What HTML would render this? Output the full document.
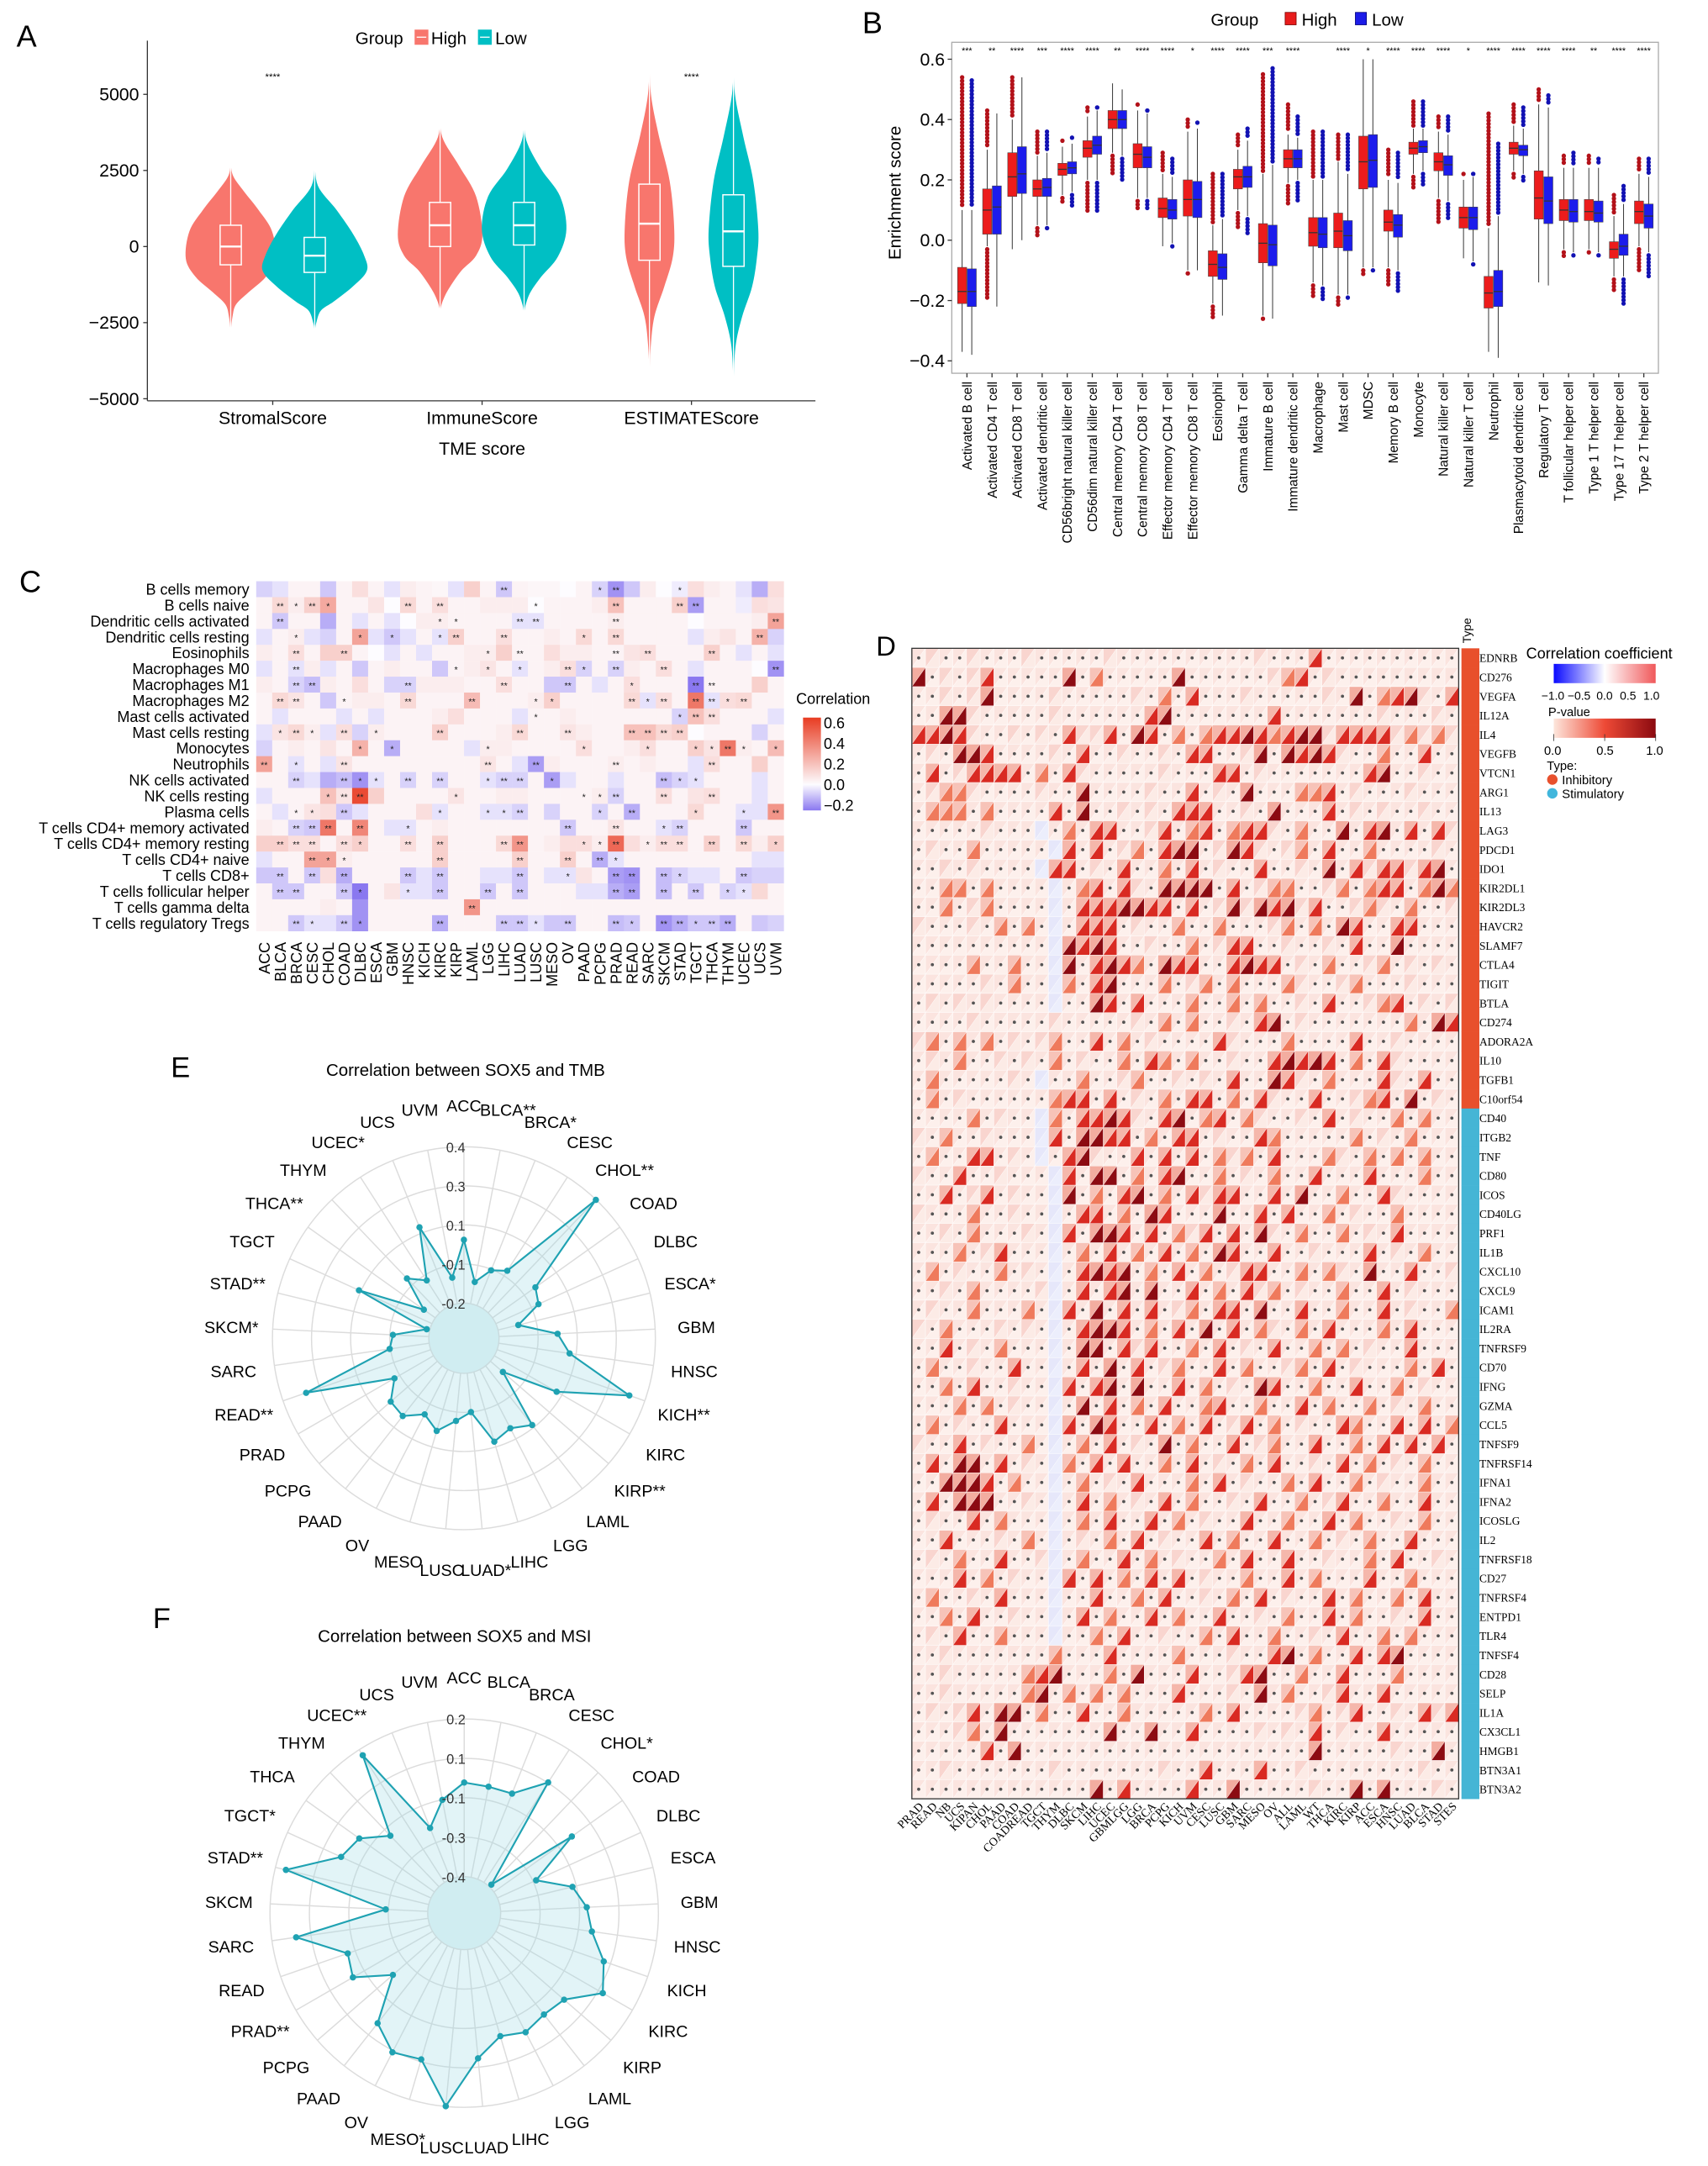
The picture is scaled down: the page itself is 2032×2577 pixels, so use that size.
<!DOCTYPE html>
<html><head><meta charset="utf-8">
<style>
html,body{margin:0;padding:0;background:#fff;}
svg{display:block;font-family:"Liberation Sans",Arial,sans-serif;}
.serif{font-family:"Liberation Serif",serif;}
</style></head>
<body>
<svg id="fig" xmlns="http://www.w3.org/2000/svg" width="2032" height="2577" viewBox="0 0 1240 1572.6" preserveAspectRatio="none">
<defs>
 <linearGradient id="gradC" x1="0" y1="1" x2="0" y2="0">
  <stop offset="0" stop-color="#8a78f0"/><stop offset="0.28" stop-color="#fdfcff"/><stop offset="1" stop-color="#e83c22"/>
 </linearGradient>
 <linearGradient id="gradD1" x1="0" y1="0" x2="1" y2="0">
  <stop offset="0" stop-color="#0a0aff"/><stop offset="0.5" stop-color="#ffffff"/><stop offset="1" stop-color="#f0585a"/>
 </linearGradient>
 <linearGradient id="gradD2" x1="0" y1="0" x2="1" y2="0">
  <stop offset="0" stop-color="#fde6dc"/><stop offset="0.5" stop-color="#ee4a36"/><stop offset="1" stop-color="#8b0a10"/>
 </linearGradient>
</defs>

<!-- Panel A -->
<g id="pA">
 <text x="12" y="34" font-size="22">A</text>
 <g font-size="12.5">
  <text x="258" y="32">Group</text>
  <rect x="301" y="21.5" width="10" height="11" fill="#f8766d"/>
  <line x1="302.5" y1="27" x2="309.5" y2="27" stroke="#fff" stroke-width="0.8"/>
  <text x="313" y="32">High</text>
  <rect x="347" y="21.5" width="10" height="11" fill="#00bfc4"/>
  <line x1="348.5" y1="27" x2="355.5" y2="27" stroke="#fff" stroke-width="0.8"/>
  <text x="359.5" y="32">Low</text>
 </g>
 <line x1="107" y1="29.5" x2="107" y2="291" stroke="#333" stroke-width="0.8"/>
 <line x1="107" y1="291" x2="592" y2="291" stroke="#333" stroke-width="0.8"/>
 <text x="350" y="330" font-size="13" text-anchor="middle">TME score</text>
</g>

<!-- Panel B -->
<g id="pB">
 <text x="626" y="24" font-size="22">B</text>
 <g font-size="12.5">
  <text x="879" y="18.5">Group</text>
  <rect x="933" y="9" width="8" height="9" fill="#e81c1c" stroke="#7a0000" stroke-width="0.5"/>
  <text x="945" y="18.5">High</text>
  <rect x="984" y="9" width="8" height="9" fill="#1c1ce8" stroke="#00007a" stroke-width="0.5"/>
  <text x="996" y="18.5">Low</text>
 </g>
 <rect x="691" y="30.7" width="513" height="240.3" fill="none" stroke="#aaa" stroke-width="0.8"/>
 <text transform="translate(654,140) rotate(-90)" font-size="12.5" text-anchor="middle">Enrichment score</text>
</g>

<!-- Panel C -->
<g id="pC">
 <text x="14" y="430" font-size="22">C</text>
 <text x="578" y="511" font-size="11">Correlation</text>
 <rect x="583" y="521" width="13" height="67.4" fill="url(#gradC)"/>
</g>

<!-- Panel D -->
<g id="pD">
 <text x="636" y="476" font-size="20">D</text>
 <text transform="translate(1068,467) rotate(-90)" font-size="8.5">Type</text>
 <text x="1108" y="478" font-size="11">Correlation coefficient</text>
 <rect x="1128" y="482" width="74" height="14" fill="url(#gradD1)"/>
 <g font-size="8.5">
  <text x="1119" y="508">−1.0</text>
  <text x="1138" y="508">−0.5</text>
  <text x="1159" y="508">0.0</text>
  <text x="1176" y="508">0.5</text>
  <text x="1193" y="508">1.0</text>
 </g>
 <text x="1124" y="520" font-size="9">P-value</text>
 <rect x="1128" y="521.7" width="74" height="14" fill="url(#gradD2)"/>
 <g stroke="#333" stroke-width="0.5">
  <line x1="1128" y1="533" x2="1128" y2="538"/>
  <line x1="1165" y1="533" x2="1165" y2="538"/>
  <line x1="1202" y1="533" x2="1202" y2="538"/>
 </g>
 <g font-size="9">
  <text x="1121" y="548">0.0</text>
  <text x="1159" y="548">0.5</text>
  <text x="1195" y="548">1.0</text>
 </g>
 <text x="1123" y="559" font-size="9">Type:</text>
 <circle cx="1127" cy="566" r="3.8" fill="#e8512e"/>
 <text x="1134" y="569.5" font-size="9">Inhibitory</text>
 <circle cx="1127" cy="576" r="3.8" fill="#41b6dc"/>
 <text x="1134" y="579.5" font-size="9">Stimulatory</text>
</g>

<!-- Panel E & F -->
<g id="pE">
 <text x="124" y="782" font-size="21">E</text>
 <text x="338" y="781" font-size="12.5" text-anchor="middle">Correlation between SOX5 and TMB</text>
</g>
<g id="pF">
 <text x="111" y="1182" font-size="21">F</text>
 <text x="330" y="1192" font-size="12.5" text-anchor="middle">Correlation between SOX5 and MSI</text>
</g>
</svg>

<script>
const NS="http://www.w3.org/2000/svg";
function mk(tag,attrs,parent){const e=document.createElementNS(NS,tag);for(const k in attrs)e.setAttribute(k,attrs[k]);parent.appendChild(e);return e;}

/* ================= PANEL A DATA ================= */
const aGroups=["StromalScore","ImmuneScore","ESTIMATEScore"];
const aMedHigh=[0,700,750];
const aQ1High=[-600,0,-450];
const aQ3High=[700,1450,2050];
const aMedLow=[-300,700,500];
const aQ1Low=[-850,50,-650];
const aQ3Low=[300,1450,1700];
const aDensValsHigh=[[2700,2300,1800,1200,500,-400,-1000,-1500,-1900,-2300,-2800],[4500,3600,2650,1650,400,-300,-800,-1400,-1800,-2100],[6300,5000,3640,2150,660,-330,-1320,-2300,-3300,-4300]];
const aDensWHigh=[[0,0.06,0.3,0.62,0.92,1,0.78,0.4,0.12,0.04,0],[0,0.05,0.45,0.85,1,0.85,0.5,0.2,0.06,0],[0,0.06,0.38,0.82,1,0.95,0.6,0.2,0.05,0]];
const aDensValsLow=[[2900,2000,1200,400,-300,-800,-1300,-1800,-2100,-2500,-2800],[4400,3500,2550,1650,570,-330,-1000,-1500,-1900,-2200],[6200,5000,3600,2150,570,-330,-1320,-2300,-3300,-4600]];
const aDensWLow=[[0,0.06,0.42,0.74,0.95,1,0.74,0.37,0.12,0.03,0],[0,0.05,0.4,0.85,1,0.8,0.4,0.15,0.04,0],[0,0.06,0.4,0.8,1,0.95,0.75,0.35,0.08,0]];
const aMaxHalfHigh=[32.6,30.7,17.9];
const aMaxHalfLow=[37.8,30.7,18];
const aTicks=[5000,2500,0,-2500,-5000];
const aTickLabels=["5000","2500","0","−2500","−5000"];
const aSig=["****","","****"];

/* ================= PANEL B DATA ================= */
const bCells=["Activated B cell","Activated CD4 T cell","Activated CD8 T cell","Activated dendritic cell","CD56bright natural killer cell","CD56dim natural killer cell","Central memory CD4 T cell","Central memory CD8 T cell","Effector memory CD4 T cell","Effector memory CD8 T cell","Eosinophil","Gamma delta T cell","Immature B cell","Immature dendritic cell","Macrophage","Mast cell","MDSC","Memory B cell","Monocyte","Natural killer cell","Natural killer T cell","Neutrophil","Plasmacytoid dendritic cell","Regulatory T cell","T follicular helper cell","Type 1 T helper cell","Type 17 T helper cell","Type 2 T helper cell"];
const bSig=["***","**","****","***","****","****","**","****","****","*","****","****","***","****","","****","*","****","****","****","*","****","****","****","****","**","****","****"];
const bQ1H=[-.21,.02,.145,.145,.215,.275,.37,.24,.075,.08,-.12,.17,-.075,.24,-.02,-.025,.17,.03,.285,.23,.04,-.225,.285,.07,.065,.065,-.06,.055];
const bMedH=[-.17,.10,.21,.17,.235,.305,.40,.285,.105,.135,-.08,.21,-.01,.27,.025,.03,.26,.06,.305,.26,.075,-.175,.305,.14,.10,.095,-.03,.095];
const bQ3H=[-.09,.17,.29,.20,.255,.33,.43,.32,.14,.20,-.035,.235,.055,.30,.075,.09,.345,.10,.325,.29,.11,-.12,.325,.23,.135,.135,-.005,.13];
const bLoH=[-.37,-.02,-.03,.05,.15,.2,.29,.14,-.02,-.1,-.21,.1,-.25,.19,-.14,-.18,-.09,-.09,.22,.14,-.06,-.37,.23,-.14,-.03,-.03,-.12,-.02];
const bHiH=[.10,.30,.40,.28,.31,.41,.52,.43,.22,.36,.05,.30,.22,.35,.2,.26,.6,.2,.37,.36,.2,.04,.38,.45,.24,.24,.08,.22];
const bOminH=[-.37,-.2,-.03,.01,.12,.09,.22,.1,-.02,-.11,-.26,.04,-.27,.12,-.19,-.22,-.12,-.15,.17,.06,-.06,-.37,.2,-.14,-.06,-.05,-.17,-.1];
const bOmaxH=[.54,.43,.54,.36,.33,.44,.52,.45,.29,.40,.22,.35,.55,.45,.36,.35,.6,.3,.46,.41,.22,.42,.45,.50,.28,.28,.15,.27];
const bQ1L=[-.22,.02,.155,.145,.22,.285,.37,.24,.07,.075,-.13,.175,-.085,.24,-.025,-.035,.175,.01,.29,.215,.035,-.22,.28,.055,.06,.06,-.05,.04];
const bMedL=[-.17,.11,.22,.175,.24,.315,.40,.275,.10,.135,-.09,.21,-.015,.27,.02,.015,.265,.05,.31,.25,.075,-.17,.30,.13,.095,.09,-.02,.08];
const bQ3L=[-.095,.18,.31,.205,.26,.345,.43,.31,.135,.195,-.045,.245,.05,.30,.075,.065,.35,.085,.33,.28,.11,-.10,.315,.21,.135,.13,.02,.12];
const bLoL=[-.38,-.22,0,.05,.16,.2,.28,.14,-.01,-.1,-.25,.08,-.26,.2,-.15,-.18,-.09,-.1,.23,.13,-.07,-.39,.22,-.15,-.04,-.04,-.12,-.04];
const bHiL=[.10,.42,.54,.29,.32,.43,.5,.42,.21,.37,.07,.33,.25,.34,.2,.22,.6,.19,.37,.35,.21,.08,.37,.44,.24,.24,.12,.21];
const bOminL=[-.38,-.22,0,.04,.11,.09,.2,.1,-.03,-.1,-.25,.02,-.26,.13,-.2,-.2,-.1,-.17,.18,.07,-.08,-.39,.19,-.15,-.06,-.05,-.21,-.12];
const bOmaxL=[.53,.42,.54,.36,.34,.44,.5,.43,.27,.39,.22,.37,.57,.41,.36,.35,.6,.29,.46,.41,.22,.32,.44,.48,.29,.27,.18,.27];
const bTicks=[0.6,0.4,0.2,0,-0.2,-0.4];
const bTickLabels=["0.6","0.4","0.2","0.0","−0.2","−0.4"];

/* ================= PANEL C DATA ================= */
const cCols=["ACC","BLCA","BRCA","CESC","CHOL","COAD","DLBC","ESCA","GBM","HNSC","KICH","KIRC","KIRP","LAML","LGG","LIHC","LUAD","LUSC","MESO","OV","PAAD","PCPG","PRAD","READ","SARC","SKCM","STAD","TGCT","THCA","THYM","UCEC","UCS","UVM"];
const cRows=["B cells memory","B cells naive","Dendritic cells activated","Dendritic cells resting","Eosinophils","Macrophages M0","Macrophages M1","Macrophages M2","Mast cells activated","Mast cells resting","Monocytes","Neutrophils","NK cells activated","NK cells resting","Plasma cells","T cells CD4+ memory activated","T cells CD4+ memory resting","T cells CD4+ naive","T cells CD8+","T cells follicular helper","T cells gamma delta","T cells regulatory Tregs"];
const cVals=[
[-8,-5,3,3,-10,3,10,3,-5,5,3,2,-5,15,3,-10,3,2,2,0,3,-8,-20,-10,5,0,-3,10,5,3,-5,-15,10],
[3,12,5,15,28,3,3,8,0,12,3,10,3,3,5,5,5,0,3,3,3,5,20,3,3,3,15,-18,3,3,-3,10,8],
[3,-10,3,3,-15,3,-5,3,-5,0,5,5,3,3,3,3,-5,-5,3,3,3,3,5,3,3,3,3,0,3,3,3,5,30],
[-5,3,5,-5,-8,3,30,-5,-10,-5,3,-5,15,3,3,10,3,3,5,3,12,3,12,3,3,3,3,-5,5,8,3,25,-8],
[5,3,10,3,15,15,3,0,-5,3,-5,3,3,5,5,15,3,3,10,5,5,3,3,8,10,3,3,3,15,3,-5,3,-5],
[-5,3,-5,5,-5,3,-10,3,5,3,3,-10,3,5,8,3,-5,3,5,10,-8,3,-8,5,3,10,3,-5,3,3,3,0,-20],
[5,3,-8,-12,5,3,10,3,-8,-8,5,5,5,3,3,10,3,3,-10,-10,3,-5,3,10,3,3,3,-25,3,3,3,15,3],
[3,12,8,3,-10,3,5,5,3,12,3,3,3,22,3,3,3,5,15,3,3,3,3,12,-5,10,3,45,-5,10,12,3,3],
[3,-5,3,3,3,-5,3,-5,3,3,3,5,10,3,3,3,-5,3,3,5,3,3,3,3,3,3,-8,20,10,3,3,3,-5],
[-5,8,12,5,-5,10,-8,5,3,3,3,15,3,3,3,5,12,3,3,8,5,3,3,20,20,12,15,0,3,3,3,-8,3],
[-8,3,5,3,8,3,25,3,-15,3,3,3,3,-5,5,5,3,3,3,3,10,3,3,5,10,3,3,15,8,45,5,3,22],
[30,3,-5,3,-5,8,3,3,3,3,3,3,3,3,8,3,-5,-18,5,3,3,3,5,3,5,3,3,-5,10,3,3,15,3],
[3,3,-8,-5,-15,-12,-20,-5,3,-8,3,-8,3,3,-5,-8,-8,3,-18,-5,3,3,-5,3,3,-12,-8,-5,3,3,3,-5,3],
[-5,3,3,3,20,8,60,15,3,3,3,3,8,3,3,5,5,3,3,3,3,5,-8,3,3,10,3,8,10,3,3,-5,3],
[3,-5,3,8,10,-10,-5,3,3,3,10,-5,3,3,-5,-5,-8,3,-8,3,3,-8,3,-15,3,3,3,12,3,3,-5,-5,35],
[5,3,-8,-10,45,3,40,3,-5,-5,3,5,3,3,3,3,3,3,3,-10,3,3,8,3,3,-5,-8,3,3,3,-10,3,3],
[15,15,10,10,3,10,15,3,3,10,3,15,3,3,3,12,35,3,5,10,10,5,50,10,5,10,10,3,15,3,12,5,15],
[-5,3,3,30,30,5,3,3,3,3,3,15,3,3,3,3,15,3,3,15,3,-15,-5,3,3,3,3,3,3,3,3,-5,-5],
[-10,-10,3,-10,10,-15,3,3,3,-10,-5,-10,3,3,-5,-5,-10,3,-5,-5,8,3,-18,-20,3,-12,-8,-5,-5,3,-10,-8,-8],
[3,-10,-10,3,3,-10,-25,3,8,-5,-5,-10,3,3,-10,3,-10,3,3,3,-5,-5,-15,-18,3,-12,3,-10,3,-8,-5,12,3],
[3,3,3,3,5,3,-20,3,3,3,3,3,3,35,3,3,3,3,3,3,3,3,3,3,3,3,3,3,3,3,3,3,3],
[3,3,-10,-5,-5,-10,-20,3,3,3,3,-15,3,3,3,-10,-10,-5,-10,-10,3,3,-12,-10,3,-20,-15,-10,-10,-15,3,-10,-8]];
const cStars=[
"LIHC:2 PCPG:1 PRAD:2 STAD:1",
"BLCA:2 BRCA:1 CESC:2 CHOL:1 HNSC:2 KIRC:2 LUSC:1 PRAD:2 STAD:2 TGCT:2",
"BLCA:2 KIRC:1 KIRP:1 LUAD:2 LUSC:2 PRAD:2 UVM:2",
"BRCA:1 DLBC:1 GBM:1 KIRC:1 KIRP:2 LIHC:2 PAAD:1 PRAD:2 UCS:2",
"BRCA:2 COAD:2 LGG:1 LUAD:2 PRAD:2 SARC:2 THCA:2",
"BRCA:2 KIRP:1 LGG:1 LUAD:1 OV:2 PAAD:1 PRAD:2 SKCM:2 UVM:2",
"BRCA:2 CESC:2 HNSC:2 LIHC:2 OV:2 READ:1 TGCT:2 THCA:2",
"BLCA:2 BRCA:2 COAD:1 HNSC:2 LAML:2 LUSC:1 MESO:1 READ:2 SARC:1 SKCM:2 TGCT:2 THCA:2 THYM:1 UCEC:2",
"LUSC:1 STAD:1 TGCT:2 THCA:2",
"BLCA:1 BRCA:2 CESC:1 COAD:2 ESCA:1 KIRC:2 LUAD:2 OV:2 READ:2 SARC:2 SKCM:2 STAD:2",
"DLBC:1 GBM:1 LGG:1 PAAD:1 SARC:1 TGCT:1 THCA:1 THYM:2 UCEC:1 UVM:1",
"ACC:2 BRCA:1 COAD:2 LGG:2 LUSC:2 PRAD:2 THCA:2",
"BRCA:2 COAD:2 DLBC:1 ESCA:1 HNSC:2 KIRC:2 LGG:1 LIHC:2 LUAD:2 MESO:1 SKCM:2 STAD:1 TGCT:1",
"CHOL:1 COAD:2 DLBC:2 KIRP:1 PAAD:1 PCPG:1 PRAD:2 SKCM:2 THCA:2",
"BRCA:1 CESC:1 COAD:2 KIRC:1 LGG:1 LIHC:1 LUAD:2 PCPG:1 READ:2 TGCT:1 UCEC:1 UVM:2",
"BRCA:2 CESC:2 CHOL:2 DLBC:2 HNSC:1 OV:2 PRAD:2 SKCM:1 STAD:2 UCEC:2",
"BLCA:2 BRCA:2 CESC:2 COAD:2 DLBC:1 HNSC:2 KIRC:2 LIHC:2 LUAD:2 PAAD:1 PCPG:1 PRAD:2 SARC:1 SKCM:2 STAD:2 THCA:2 UCEC:2 UVM:1",
"CESC:2 CHOL:1 COAD:1 KIRC:2 LUAD:2 OV:2 PCPG:2 PRAD:1",
"BLCA:2 CESC:2 COAD:2 HNSC:2 KIRC:2 LUAD:2 OV:1 PRAD:2 READ:2 SKCM:2 STAD:1 UCEC:2",
"BLCA:2 BRCA:2 COAD:2 DLBC:1 HNSC:1 KIRC:2 LGG:2 LUAD:2 PRAD:2 READ:2 SKCM:2 TGCT:2 THYM:1 UCEC:1",
"LAML:2",
"BRCA:2 CESC:1 COAD:2 DLBC:1 KIRC:2 LIHC:2 LUAD:2 LUSC:1 OV:2 PRAD:2 READ:1 SKCM:2 STAD:2 TGCT:1 THCA:2 THYM:2"];
const cLegendTicks=[0.6,0.4,0.2,0,-0.2];
const cLegendLabels=["0.6","0.4","0.2","0.0","−0.2"];

/* ================= PANEL D DATA ================= */
const dCols=["PRAD","READ","NB","UCS","KIPAN","CHOL","PAAD","COAD","COADREAD","TGCT","THYM","DLBC","SKCM","LIHC","UCEC","GBMLGG","LGG","BRCA","PCPG","KICH","UVM","CESC","LUSC","GBM","SARC","MESO","OV","ALL","LAML","WT","THCA","KIRC","KIRP","ACC","ESCA","HNSC","LUAD","BLCA","STAD","STES"];
const dGenes=["EDNRB","CD276","VEGFA","IL12A","IL4","VEGFB","VTCN1","ARG1","IL13","LAG3","PDCD1","IDO1","KIR2DL1","KIR2DL3","HAVCR2","SLAMF7","CTLA4","TIGIT","BTLA","CD274","ADORA2A","IL10","TGFB1","C10orf54","CD40","ITGB2","TNF","CD80","ICOS","CD40LG","PRF1","IL1B","CXCL10","CXCL9","ICAM1","IL2RA","TNFRSF9","CD70","IFNG","GZMA","CCL5","TNFSF9","TNFRSF14","IFNA1","IFNA2","ICOSLG","IL2","TNFRSF18","CD27","TNFRSF4","ENTPD1","TLR4","TNFSF4","CD28","SELP","IL1A","CX3CL1","HMGB1","BTN3A1","BTN3A2"];
const dInhibitoryCount=24;
/* per-cell code: '.' non-significant (dot), 'o' light, '1'-'4' p-value intensity, 'b' negative correlation */
const dCells=[
".o..o...o.....o..........o...3..........",
"4.o.o3.....4.2.....4......o23.o.........",
"..o.o4....o.....o.2.3...o.....o.4.234o.3",
"..44o.....o......34.......3.......o...o.",
"3343o..o.o.3oo3.43.2.233432344o3333o2o2o",
".o.443....o.3..o..o.33..o4.4343o..2..3..",
".3.o3333.2.3o.....o...33.o.......34..o..",
".o22o....o..4....o..3.o.4...223.o...o...",
".222.2....3.4..o.o.333..o.4...3.o.o..o..",
".....o...b.2.33..o3.23.233o.2..4.34.3.3o",
".o..2.....b3.3.o2.344.o43o.o2.3..2....o.",
"..o.o....b33.o.3..2.3.o..3..o.4.3o33o34.",
"..22.2....b.23.3o.4444.3.o22..o2.233.242",
"..2.o2....b.3334433.3.o4o434o3..o2o.2..o",
"o...o.2.2.b.333.o..2..2...o2.2.43..33...",
"..........b4343..o..2.o33..o..o.3..4....",
"....2..2..b4.3432.433..3433.o.2..o2.o.o.",
".....o.2..b2.34...2.o2.2...2o..o2...o...",
".o.o.o....b..43.3...2..2.2..o.3..o23.o.o",
"....o.....o.....o.2.2..o.34.o.......2.43",
"o2.2.2.o.o2..3.2.o....3o...2....3..o....",
".o.2..o.o.2.o..2.32.2..o..34343.2.3o....",
".2.....o.b..2..o2..o.o.3..43o.2...3o.3..",
".2.o......233.3.o.2.33.2.3o..3..o23.4.o.",
"....2.o..b2.3343o.34.23.2o..o.3.o..2.2..",
"o.2..o...b3.4433.2.33.o..32.....2.o.2...",
".2..33.o.b.34o..3.3.3.2o2.3...2o.2.2.2..",
"o..3..o...b3.44.2.34..2.o.2..3...3...2..",
"..3.o3.o..b4.2.34.2.3o33..3.4..2..3o....",
"o...2..o..b.33.2.43...4..3.3..2.o..2....",
"..o.2...o.b3.443.3.2o3.3.4o.2..2.o.3....",
"...2.o3...b.2.3.2.3.2.43..3..o...3.o.2..",
".2.o..2.o.b.3434.2.3.2.o33..2.2o.4..3..o",
"..o.2....ob.3.34.4..3.2.3o2.o..2..3.o...",
".o..2...2.b3.4.3.3.o2.33.4..3..2..3.o..2",
"o.2...o.o.b.3443.2.3.4.3.2o.2.3...2.3...",
"..3.o.2...b.44.3o3..2.3.o.3..2.2.o..3...",
".2..o..3..b.3.4.3.o2..3.2..o2.3.o...2.3.",
"..2.3..o..b3.34.4..3.2.o.43..2..3..2.o..",
"...2.2.o..b.4.3.2.3..23..2..3.2..2.o.2..",
".2.o..3...b3.43..3.2.3.o3.2.o..32..3.3.2",
"o..3.o..2.b.2.3.o.4.2..3.o2..3..2.3.3.3.",
".3.44.3.o.b2.3.3..2.3.o.2.3..o.3.2.o.2..",
"..4443.2..b.2.o.3...2.3.o..2.3..2.o..2..",
".3.444..o.b.3.2.o.3.2..o.3..2.o3..2..3..",
".o..3.2...b.2.3..3.2.o..3..2..3.2..o.2..",
"..3...o.2.b.o.2.3.o..3.2..3..2.o.2..3...",
".o.2..3..ob.2..3.2.o..2.3..3..o..2.3..o.",
"...3.2.o..b3.3.2.3.3.o..2..3.2...3..2...",
".2..o.3...b..3..2.3..o.2.3.o..3.2..2.3..",
"..2.3..o..b.3.2..3.2..3..o.2..3.2..o.3..",
".o.3..2...b..2.3..o..2.3..2..o.3..2.2...",
"..o.......2...3....2...o..34.2..3.34....",
"..o.....234...2.4...3..o34..2..3...2....",
"..o.....24.2.2.2...3...o.4.2..o3..3.....",
".o.o3.44.2..3..2.....2.3....o2.o3..o.3o3",
"...o2.4.......4..4..3....o.o.3.o..3.....",
".....3.4.....................4.....o..4",
"..o.......o.......o..3...3..o........o..",
".............4.3....3..4.....o..4.4...o."];

/* ================= PANEL E/F DATA ================= */
const radarCats=["ACC","BLCA","BRCA","CESC","CHOL","COAD","DLBC","ESCA","GBM","HNSC","KICH","KIRC","KIRP","LAML","LGG","LIHC","LUAD","LUSC","MESO","OV","PAAD","PCPG","PRAD","READ","SARC","SKCM","STAD","TGCT","THCA","THYM","UCEC","UCS","UVM"];
const eLabels=["ACC","BLCA**","BRCA*","CESC","CHOL**","COAD","DLBC","ESCA*","GBM","HNSC","KICH**","KIRC","KIRP**","LAML","LGG","LIHC","LUAD*","LUSC","MESO","OV","PAAD","PCPG","PRAD","READ**","SARC","SKCM*","STAD**","TGCT","THCA**","THYM","UCEC*","UCS","UVM"];
const eValues=[0.043,-0.115,-0.054,-0.027,0.399,0.002,-0.02,-0.12,0.025,0.075,0.337,0.076,-0.137,0.089,0.054,0.079,-0.05,-0.016,0.036,-0.006,0.045,0.037,-0.027,0.306,-0.047,-0.062,-0.188,0.108,-0.146,-0.018,-0.071,0.124,-0.098];
const eRingVals=[-0.2,-0.05,0.1,0.25,0.4];
const eRingLabels=["-0.2","-0.1","0.1","0.3","0.4"];
const fLabels=["ACC","BLCA","BRCA","CESC","CHOL*","COAD","DLBC","ESCA","GBM","HNSC","KICH","KIRC","KIRP","LAML","LGG","LIHC","LUAD","LUSC","MESO*","OV","PAAD","PCPG","PRAD**","READ","SARC","SKCM","STAD**","TGCT*","THCA","THYM","UCEC**","UCS","UVM"];
const fValues=[-0.042,-0.049,-0.049,0.052,-0.389,-0.036,-0.238,-0.115,-0.072,-0.048,0.023,0.07,-0.036,-0.048,-0.029,-0.051,0.016,0.199,0.041,0.057,-0.006,-0.18,-0.05,-0.07,0.107,-0.24,0.159,-0.024,-0.049,-0.132,0.175,-0.19,-0.1];
const fRingVals=[-0.4,-0.25,-0.1,0.05,0.2];
const fRingLabels=["-0.4","-0.3","-0.1","0.1","0.2"];

/* ================= DRAW A ================= */
(function(){
 const g=document.getElementById('pA');
 const aY=v=>179-v*110.5/5000;
 const aXc=[198,350,502];
 aTicks.forEach((t,i)=>{
  const tk=mk('line',{x1:104,x2:107,y1:aY(t),y2:aY(t),stroke:'#333','stroke-width':0.8},g);
  
  
  const tl=mk('text',{x:101,y:aY(t)+4.5,'font-size':13,'text-anchor':'end'},g);
  tl.textContent=aTickLabels[i];
  
  
 });
 function smoothSide(pts){ // catmull-rom resample
  const out=[];
  for(let i=0;i<pts.length-1;i++){
   const p0=pts[Math.max(0,i-1)],p1=pts[i],p2=pts[i+1],p3=pts[Math.min(pts.length-1,i+2)];
   for(let t=0;t<1;t+=0.125){
    const t2=t*t,t3=t2*t;
    const f=(a,b,c,d)=>0.5*((2*b)+(-a+c)*t+(2*a-5*b+4*c-d)*t2+(-a+3*b-3*c+d)*t3);
    out.push([f(p0[0],p1[0],p2[0],p3[0]),f(p0[1],p1[1],p2[1],p3[1])]);
   }
  }
  out.push(pts[pts.length-1]);
  return out;
 }
 function violin(cx,vals,ws,maxW,q1,med,q3,color,nm){
  const ys=vals.map(aY);
  const right=smoothSide(vals.map((v,i)=>[Math.max(0,ws[i])*maxW,ys[i]]));
  let d='M'+right.map(p=>(cx+Math.max(0,p[0])).toFixed(2)+','+p[1].toFixed(2)).join('L');
  d+='L'+right.slice().reverse().map(p=>(cx-Math.max(0,p[0])).toFixed(2)+','+p[1].toFixed(2)).join('L')+'Z';
  const v=mk('path',{d:d,fill:color},g);
  
  
  const w=mk('line',{x1:cx,x2:cx,y1:ys[0],y2:ys[ys.length-1],stroke:'#fff','stroke-width':0.8},g);
  
  
  const b=mk('rect',{x:cx-7.7,y:aY(q3),width:15.4,height:aY(q1)-aY(q3),fill:color,stroke:'#fff','stroke-width':0.9},g);
  
  
  const m=mk('line',{x1:cx-7.7,x2:cx+7.7,y1:aY(med),y2:aY(med),stroke:'#fff','stroke-width':1.5},g);
  
  
 }
 aGroups.forEach((grp,i)=>{
  violin(aXc[i]-30.5,aDensValsHigh[i],aDensWHigh[i],aMaxHalfHigh[i],aQ1High[i],aMedHigh[i],aQ3High[i],'#f8766d','a-'+grp.toLowerCase()+'-high');
  violin(aXc[i]+30.5,aDensValsLow[i],aDensWLow[i],aMaxHalfLow[i],aQ1Low[i],aMedLow[i],aQ3Low[i],'#00bfc4','a-'+grp.toLowerCase()+'-low');
  const tk=mk('line',{x1:aXc[i],x2:aXc[i],y1:291,y2:294,stroke:'#333','stroke-width':0.8},g);
  
  
  const tl=mk('text',{x:aXc[i],y:308,'font-size':13,'text-anchor':'middle'},g);
  tl.textContent=grp;
  
  
  if(aSig[i]){
   const s=mk('text',{x:aXc[i],y:58,'font-size':7,'text-anchor':'middle'},g);
   s.textContent=aSig[i];
   
   
  }
 });
})();

/* ================= DRAW B ================= */
(function(){
 const g=document.getElementById('pB');
 const bY=v=>174.4-v*219;
 const bX=i=>702+i*18.2;
 bTicks.forEach((t,i)=>{
  const tk=mk('line',{x1:688,x2:691,y1:bY(t),y2:bY(t),stroke:'#333','stroke-width':0.8},g);
  
  
  const tl=mk('text',{x:686,y:bY(t)+4.5,'font-size':13,'text-anchor':'end'},g);
  tl.textContent=bTickLabels[i];
  
  
 });
 function box(cx,q1,med,q3,lo,hi,omin,omax,fill,oc,nm){
  const w=mk('line',{x1:cx,x2:cx,y1:bY(hi),y2:bY(lo),stroke:'#333','stroke-width':0.6},g);
  
  
  if(omax>hi+0.005){
   const o=mk('line',{x1:cx,x2:cx,y1:bY(omax),y2:bY(hi+0.01),stroke:oc,'stroke-width':3.2,'stroke-linecap':'round','stroke-dasharray':'0.1 2.4'},g);
   
   
  }
  if(omin<lo-0.005){
   const o=mk('line',{x1:cx,x2:cx,y1:bY(lo-0.01),y2:bY(omin),stroke:oc,'stroke-width':3.2,'stroke-linecap':'round','stroke-dasharray':'0.1 2.4'},g);
   
   
  }
  const b=mk('rect',{x:cx-3.3,y:bY(q3),width:6.6,height:bY(q1)-bY(q3),fill:fill,stroke:'#444','stroke-width':0.35},g);
  
  
  const m=mk('line',{x1:cx-3.3,x2:cx+3.3,y1:bY(med),y2:bY(med),stroke:'#333','stroke-width':0.8},g);
  
  
 }
 bCells.forEach((c,i)=>{
  const cx=bX(i);
  box(cx-3.5,bQ1H[i],bMedH[i],bQ3H[i],bLoH[i],bHiH[i],bOminH[i],bOmaxH[i],'#ec1c1c','#b3121a','b-high-'+i);
  box(cx+3.5,bQ1L[i],bMedL[i],bQ3L[i],bLoL[i],bHiL[i],bOminL[i],bOmaxL[i],'#1c1cec','#1212b3','b-low-'+i);
  const tk=mk('line',{x1:cx,x2:cx,y1:271,y2:274,stroke:'#333','stroke-width':0.8},g);
  
  
  const tl=mk('text',{transform:'translate('+(cx+3.4)+',277) rotate(-90)','font-size':9.4,'text-anchor':'end'},g);
  tl.textContent=c;
  
  
  if(bSig[i]){
   const s=mk('text',{x:cx,y:39,'font-size':6.5,'text-anchor':'middle'},g);
   s.textContent=bSig[i];
   
   
  }
 });
})();

/* ================= DRAW C ================= */
(function(){
 const g=document.getElementById('pC');
 const x0=186,y0=422,cw=(569-186)/33,ch=(676-422)/22;
 function col(v){
  const pos=[232,60,35],neg=[138,120,240],wh=[253,252,255];
  let t,c;
  if(v>=0){t=Math.min(1,v/0.65);c=pos;}else{t=Math.min(1,-v/0.25);c=neg;}
  const r=wh.map((w,k)=>Math.round(w+(c[k]-w)*t));
  return 'rgb('+r.join(',')+')';
 }
 cRows.forEach((rn,r)=>{
  const stars={};
  cStars[r].split(' ').forEach(s=>{if(s){const p=s.split(':');stars[p[0]]=+p[1];}});
  cCols.forEach((cn,c)=>{
   const v=cVals[r][c]/100;
   const cell=mk('rect',{x:x0+c*cw,y:y0+r*ch,width:cw+0.15,height:ch+0.15,fill:col(v)},g);
   
   
   if(stars[cn]){
    const s=mk('text',{x:x0+(c+0.5)*cw,y:y0+(r+0.5)*ch+3,'font-size':6.5,'text-anchor':'middle',fill:'#222'},g);
    s.textContent=stars[cn]===2?'**':'*';
    
    
   }
  });
  const t=mk('text',{x:181,y:y0+(r+0.5)*ch+4,'font-size':11,'text-anchor':'end'},g);
  t.textContent=rn;
  
  
 });
 cCols.forEach((cn,c)=>{
  const t=mk('text',{transform:'translate('+(x0+(c+0.5)*cw+4)+',684) rotate(-90)','font-size':11,'text-anchor':'end'},g);
  t.textContent=cn;
  
  
 });
 const cbY=v=>524.7+(0.6-v)*74.9;
 cLegendTicks.forEach((v,i)=>{
  const t=mk('text',{x:598,y:cbY(v)+4,'font-size':11},g);
  t.textContent=cLegendLabels[i];
  
  
 });
})();

/* ================= DRAW D ================= */
(function(){
 const g=document.getElementById('pD');
 const x0=662,y0=470.7,x1=1059,y1=1306;
 const cw=(x1-x0)/dCols.length,ch=(y1-y0)/dGenes.length;
 const lowCol={'1':'#f7b19c','2':'#ef7a5c','3':'#d92a22','4':'#8c0b12'};
 const upCol={'.':'#fbe4df','o':'#f9d5cf','1':'#f9cfc6','2':'#f7c3b8','3':'#f5b7ab','4':'#f3ada0','b':'#e6e7fa'};
 const bg=mk('rect',{x:x0,y:y0,width:x1-x0,height:y1-y0,fill:'#fbe6e2'},g);
 
 
 dGenes.forEach((gn,r)=>{
  const row=(dCells[r]+'.'.repeat(40)).slice(0,40);
  for(let c=0;c<40;c++){
   const ch0=row[c];
   const x=x0+c*cw,y=y0+r*ch;
   const up=mk('polygon',{points:x+','+y+' '+(x+cw)+','+y+' '+x+','+(y+ch),fill:upCol[ch0]||'#fbe4df',stroke:'#fff','stroke-width':0.25},g);
   
   
   const lc=lowCol[ch0]||(ch0==='b'?'#eceefc':(ch0==='o'?'#fcebe6':'#fdf0ec'));
   const lo=mk('polygon',{points:(x+cw)+','+y+' '+(x+cw)+','+(y+ch)+' '+x+','+(y+ch),fill:lc,stroke:'#fff','stroke-width':0.25},g);
   
   
   if(ch0==='.'){
    const d=mk('circle',{cx:x+cw/2,cy:y+ch/2,r:1.15,fill:'#555'},g);
    
    
   }
  }
  const tb=mk('rect',{x:1061,y:y0+r*ch,width:13,height:ch+0.2,fill:r<dInhibitoryCount?'#e8502c':'#45b5d5'},g);
  
  
  const t=mk('text',{x:1074,y:y0+(r+0.5)*ch+3,'font-size':8.2,'class':'serif'},g);
  t.textContent=gn;
  
  
 });
 const fr=mk('rect',{x:x0,y:y0,width:x1-x0,height:y1-y0,fill:'none',stroke:'#333','stroke-width':0.8},g);
 
 
 dCols.forEach((cn,c)=>{
  const cx=x0+(c+0.5)*cw;
  const t=mk('text',{transform:'translate('+(cx+4)+',1312) rotate(-45)','font-size':8.5,'text-anchor':'end','class':'serif'},g);
  t.textContent=cn;
  
  
 });
})();

/* ================= DRAW E/F ================= */
function radar(gid,cx,cy,rIn,rOut,ringVals,ringLabels,labels,values,pre){
 const g=document.getElementById(gid);
 const vmin=ringVals[0],vmax=ringVals[ringVals.length-1];
 const R=v=>rIn+(v-vmin)/(vmax-vmin)*(rOut-rIn);
 const n=labels.length;
 const ang=i=>i*2*Math.PI/n;
 ringVals.slice().reverse().forEach((v,k)=>{
  const c=mk('circle',{cx:cx,cy:cy,r:R(v),fill:k===ringVals.length-1?'#e6f5f7':'none',stroke:'#dcdcdc','stroke-width':0.9},g);
  
  
 });
 for(let i=0;i<n;i++){
  const a=ang(i);
  const s=mk('line',{x1:cx+rIn*Math.sin(a),y1:cy-rIn*Math.cos(a),x2:cx+rOut*Math.sin(a),y2:cy-rOut*Math.cos(a),stroke:'#dcdcdc','stroke-width':0.9},g);
  
  
 }
 const pts=values.map((v,i)=>[cx+R(v)*Math.sin(ang(i)),cy-R(v)*Math.cos(ang(i))]);
 const poly=mk('polygon',{points:pts.map(p=>p[0].toFixed(2)+','+p[1].toFixed(2)).join(' '),fill:'rgba(160,220,228,0.3)',stroke:'#1fa2b2','stroke-width':1.3,'stroke-linejoin':'round'},g);
 
 
 pts.forEach(p=>{
  const d=mk('circle',{cx:p[0],cy:p[1],r:2.3,fill:'#1fa2b2'},g);
  
  
 });
 ringVals.forEach((v,k)=>{
  const t=mk('text',{x:cx+1,y:cy-R(v)+4,'font-size':10,'text-anchor':'end',fill:'#333'},g);
  t.textContent=ringLabels[k];
  
  
 });
 labels.forEach((lb,i)=>{
  const a=ang(i),rl=rOut+30;
  const t=mk('text',{x:cx+rl*Math.sin(a),y:cy-rl*Math.cos(a)+4.3,'font-size':12,'text-anchor':'middle'},g);
  t.textContent=lb;
  
  
 });
}
radar('pE',336.8,971.6,25.5,139,eRingVals,eRingLabels,eLabels,eValues,'e');
radar('pF',337,1389,26.5,141,fRingVals,fRingLabels,fLabels,fValues,'f');
</script>
</body></html>
